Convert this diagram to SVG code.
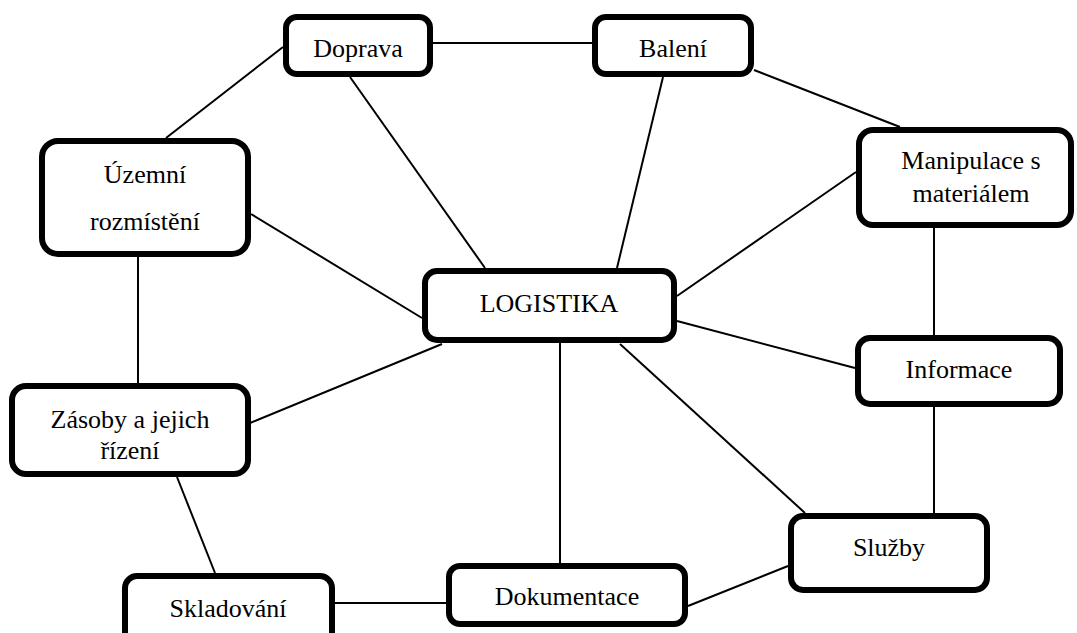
<svg xmlns="http://www.w3.org/2000/svg" width="1077" height="633" viewBox="0 0 1077 633">
<style>
.c{stroke:#000;stroke-width:2;fill:none}
.n{fill:#fff;stroke:#000;stroke-width:6}
.t{font-family:"Liberation Serif","Times New Roman",serif;font-size:26px;fill:#000;text-anchor:middle}
</style>
<rect width="1077" height="633" fill="#fff"/>
<g id="connectors">
<line class="c" x1="433" y1="43" x2="592" y2="43"/>
<line class="c" x1="283" y1="47" x2="166" y2="138"/>
<line class="c" x1="350" y1="77" x2="485" y2="268"/>
<line class="c" x1="663" y1="77" x2="617" y2="268"/>
<line class="c" x1="754" y1="70" x2="900" y2="127"/>
<line class="c" x1="251" y1="214" x2="422" y2="318"/>
<line class="c" x1="138" y1="257" x2="138" y2="383"/>
<line class="c" x1="856" y1="172" x2="677" y2="296"/>
<line class="c" x1="934" y1="228" x2="934" y2="335"/>
<line class="c" x1="677" y1="321" x2="855" y2="368"/>
<line class="c" x1="934" y1="407" x2="934" y2="513"/>
<line class="c" x1="620" y1="344" x2="805" y2="513"/>
<line class="c" x1="560" y1="343" x2="560" y2="563"/>
<line class="c" x1="250" y1="423" x2="442" y2="344"/>
<line class="c" x1="177" y1="477" x2="215" y2="573"/>
<line class="c" x1="335" y1="603" x2="446" y2="603"/>
<line class="c" x1="688" y1="606" x2="788" y2="566"/>
</g>
<g id="doprava"><rect class="n" x="286" y="17" width="144" height="57" rx="11"/><text class="t" x="358" y="57">Doprava</text></g>
<g id="baleni"><rect class="n" x="595" y="17" width="156" height="57" rx="11"/><text class="t" x="673" y="57">Balení</text></g>
<g id="uzemni"><rect class="n" x="42" y="141" width="206" height="113" rx="16"/><text class="t" x="145" y="183">Územní</text><text class="t" x="145" y="230">rozmístění</text></g>
<g id="manipulace"><rect class="n" x="859" y="130" width="212" height="95" rx="14"/><text class="t" x="971" y="169">Manipulace s</text><text class="t" x="971" y="202">materiálem</text></g>
<g id="logistika"><rect class="n" x="425" y="271" width="249" height="69" rx="12"/><text class="t" x="549" y="312">LOGISTIKA</text></g>
<g id="informace"><rect class="n" x="858" y="338" width="202" height="66" rx="12"/><text class="t" x="959" y="378">Informace</text></g>
<g id="zasoby"><rect class="n" x="12" y="386" width="236" height="88" rx="14"/><text class="t" x="130" y="428">Zásoby a jejich</text><text class="t" x="130" y="459">řízení</text></g>
<g id="skladovani"><rect class="n" x="125" y="576" width="207" height="70" rx="12"/><text class="t" x="228" y="617">Skladování</text></g>
<g id="dokumentace"><rect class="n" x="449" y="566" width="236" height="58" rx="11"/><text class="t" x="567" y="605">Dokumentace</text></g>
<g id="sluzby"><rect class="n" x="791" y="516" width="196" height="74" rx="12"/><text class="t" x="889" y="556">Služby</text></g>
</svg>
